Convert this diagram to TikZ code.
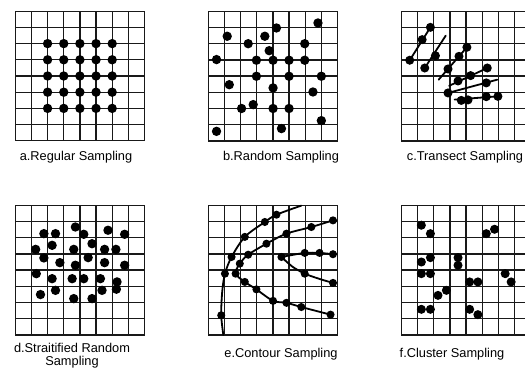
\documentclass[tikz,border=0pt]{standalone}
\usepackage{fontspec}
\setmainfont{Liberation Sans}

\newcommand{\samplegrid}{%
  \foreach \k in {0,...,8} {
    \draw[gridline] (\k,0) -- (\k,8);
    \draw[gridline] (0,\k) -- (8,\k);
  }}

\begin{document}
\begin{tikzpicture}[x=1pt, y=-1pt,
    panel/.style 2 args={shift={(#1,#2)}, x=16.15pt, y=-16.2pt},
    gridline/.style={line width=1.35pt, black!90, line cap=rect},
    dot/.style={fill=black},
    track/.style={line width=1.8pt, line cap=round},
    caption/.style={font=\fontsize{12.8}{13}\selectfont, anchor=base,
                    inner sep=0pt, align=center}]

  \useasboundingbox (0,0) rectangle (525,374);
  \clip (0,0) rectangle (525,374);

  %% a. regular
  \begin{scope}[panel={15.3}{11.2}]
    \samplegrid
    \foreach \i in {2,...,6}
      \foreach \j in {2,...,6}
        \fill[dot] (\i,\j) circle (0.29);
  \end{scope}
  \node[caption] (capA) at (76,161) {a.Regular Sampling};

  %% b. random
  \begin{scope}[panel={208.3}{11.3}]
    \samplegrid
    \foreach \x/\y in {6.79/0.72, 4.22/1.03, 1.17/1.54, 3.50/1.54, 2.47/2.0,
                       5.97/2.0, 3.77/2.43, 0.51/2.98, 2.98/3.02, 4.01/3.02,
                       5.0/3.02, 5.97/3.02, 2.98/4.01, 5.0/4.01, 7.0/4.01,
                       1.30/4.53, 4.01/4.73, 6.48/4.98, 2.78/5.76, 2.06/6.0,
                       4.01/6.0, 5.0/6.0, 7.0/6.75, 4.53/7.24, 0.51/7.41}
      \fill[dot] (\x,\y) circle (0.29);
  \end{scope}
  \node[caption] (capB) at (281,161) {b.Random Sampling};

  %% c. transect
  \begin{scope}[panel={401.5}{11.3}]
    \samplegrid
    \draw[track] (0.51,3.02) -- (1.79,0.99);
    \draw[track] (1.44,3.50) -- (2.74,1.50);
    \draw[track] (2.30,4.22) -- (4.05,2.22);
    \draw[track] (2.95,4.60) -- (5.31,3.50);
    \draw[track] (2.88,5.04) -- (5.93,4.22);
    \draw[track] (3.29,5.45) -- (5.97,5.25);
    \foreach \x/\y in {0.51/3.02, 1.28/1.75, 1.79/0.99,
                       1.44/3.50, 2.10/2.74,
                       2.88/3.56, 3.56/2.78, 4.05/2.22,
                       3.50/4.30, 4.28/3.97, 5.31/3.50,
                       2.88/5.04, 5.25/4.42,
                       3.70/5.50, 4.12/5.47, 5.25/5.27, 5.97/5.25}
      \fill[dot] (\x,\y) circle (0.28);
  \end{scope}
  \node[caption] (capC) at (465,161) {c.Transect Sampling};

  %% d. stratified random
  \begin{scope}[panel={15.3}{205.3}]
    \samplegrid
    \foreach \x/\y in {1.77/1.75, 2.49/1.75, 3.72/1.34, 4.24/1.79, 5.74/1.54, 6.77/1.79,
                       1.26/2.72, 2.28/2.47, 3.62/2.72, 4.75/2.37, 5.53/2.72, 6.23/2.72,
                       1.77/3.25, 2.76/3.54, 4.51/3.23, 3.72/3.70, 5.53/3.54, 6.77/3.70,
                       1.30/4.22, 2.28/4.53, 3.52/4.53, 4.24/4.53, 5.27/4.53, 6.30/4.73,
                       1.56/5.51, 2.49/5.25, 3.62/5.76, 4.75/5.76, 5.37/5.25, 6.26/5.18}
      \fill[dot] (\x,\y) circle (0.29);
  \end{scope}
  \node[caption] (capD) at (72,365) {d.Straitified Random\\Sampling};

  %% e. contour
  \begin{scope}[panel={208.3}{205.3}]
    \samplegrid
    \draw[track] plot[smooth] coordinates {(0.93,8.0) (0.80,6.79) (0.86,5.35)
      (1.03,4.22) (1.44,3.19) (2.26,1.95) (3.50,1.03) (4.22,0.58) (5.76,0.02)};
    \draw[track] plot[smooth] coordinates {(7.72,0.93) (6.38,1.34) (4.84,1.75)
      (3.60,2.37) (2.47,3.05) (1.95,3.60) (1.69,4.22) (2.26,4.73) (2.98,5.19)
      (4.01,5.90) (4.84,6.02) (5.76,6.28) (7.57,6.75)};
    \draw[track] plot[smooth] coordinates {(7.72,3.02) (6.89,2.94) (5.97,2.94) (4.53,3.19)};
    \draw[track] plot[smooth] coordinates {(4.53,3.19) (5.20,3.78) (5.97,4.22)
      (6.90,4.55) (7.72,4.79)};
    \foreach \x/\y in {0.80/6.79, 1.03/4.22, 1.44/3.19, 2.26/1.95, 3.50/1.03, 4.22/0.58,
                       7.72/0.93, 6.38/1.34, 4.84/1.75, 3.60/2.37, 2.47/3.05, 1.95/3.60,
                       1.69/4.22, 2.26/4.73, 2.98/5.19, 4.01/5.90, 4.84/6.02, 5.76/6.28,
                       7.57/6.75,
                       7.72/3.02, 6.89/2.94, 5.97/2.94, 4.53/3.19, 5.97/4.22, 7.72/4.79}
      \fill[dot] (\x,\y) circle (0.25);
  \end{scope}
  \node[caption] (capE) at (281,357.5) {e.Contour Sampling};

  %% f. cluster
  \begin{scope}[panel={401.5}{205.3}]
    \samplegrid
    \foreach \x/\y in {1.23/1.23, 1.79/1.75, 5.25/1.75, 5.76/1.48,
                       1.23/3.50, 1.79/3.23, 3.50/3.23, 3.50/3.70,
                       1.23/4.22, 1.79/4.22, 4.22/4.73, 4.73/4.73,
                       6.42/4.22, 6.79/4.73, 2.26/5.56, 2.78/5.25,
                       1.23/6.42, 1.79/6.42, 4.22/6.42, 4.73/6.75}
      \fill[dot] (\x,\y) circle (0.28);
  \end{scope}
  \node[caption] (capF) at (452,357.5) {f.Cluster Sampling};
\end{tikzpicture}
\end{document}
